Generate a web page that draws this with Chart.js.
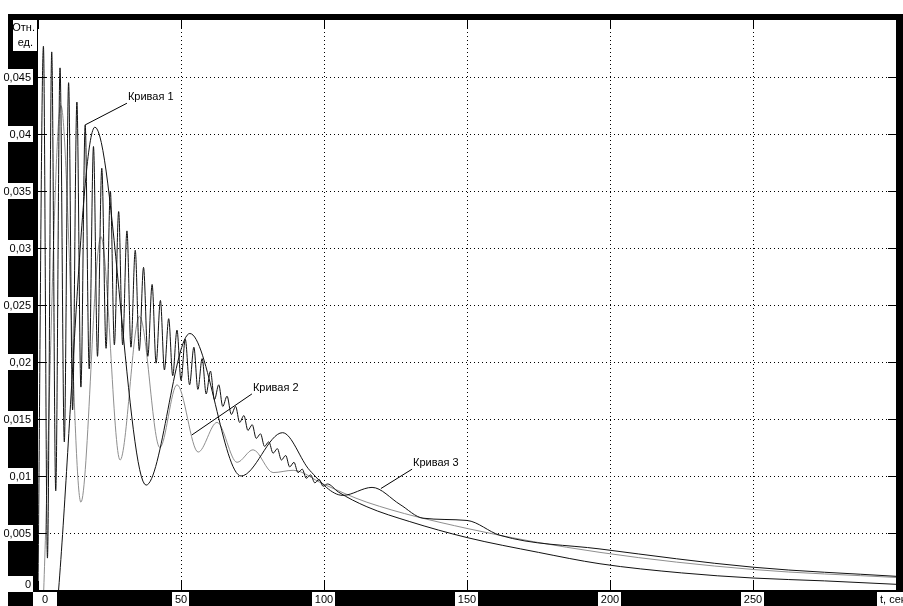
<!DOCTYPE html>
<html>
<head>
<meta charset="utf-8">
<script src="https://cdn.jsdelivr.net/npm/chart.js@4.4.1/dist/chart.umd.min.js"></script>
<style>
  html, body { margin: 0; padding: 0; background: #fff; overflow: hidden; }
  #wrap { width: 903px; height: 606px; }
</style>
</head>
<body>
<div id="wrap"><canvas id="c" width="903" height="606"></canvas></div>
<script>
// Кривая 1: fast oscillation (times of successive crests/troughs, then the smooth tail)
const curve1Time = [0, 1.9, 3.3, 4.8, 6.2, 7.7, 9.2, 10.7, 12.1, 13.6, 15.0, 16.5, 17.9, 19.4, 20.8, 22.3, 23.8,
  25.3, 26.7, 28.2, 29.6, 31.1, 32.5, 34.0, 35.4, 36.9, 38.4, 39.9, 41.3, 42.8, 44.2, 45.7, 47.1, 48.6, 50.0,
  51.5, 53.0, 54.5, 55.9, 57.4, 58.8, 60.3, 61.7, 63.2, 64.6, 66.1, 67.6, 69.1, 70.5, 72.0, 73.4, 74.9, 76.3,
  77.8, 79.2, 80.7, 82.2, 83.7, 85.1, 86.6, 88.0, 89.5, 90.9, 92.4, 93.8, 95.3, 96.8, 98.3, 99.7, 101.2,
  105, 115, 130, 150, 175, 196.5, 225, 250, 275, 300];
const curve1Value = [0, 0.0477, 0.0028, 0.0472, 0.0087, 0.0458, 0.0130, 0.0445, 0.0158, 0.0428, 0.0178, 0.0408,
  0.0194, 0.0389, 0.0205, 0.0370, 0.0212, 0.0350, 0.0215, 0.0332, 0.0215, 0.0315, 0.0213, 0.0298, 0.0210,
  0.0283, 0.0205, 0.0268, 0.0199, 0.0254, 0.0193, 0.0238, 0.0188, 0.0228, 0.0184, 0.0220, 0.0180, 0.0213,
  0.0176, 0.0203, 0.0172, 0.0192, 0.0167, 0.0180, 0.0161, 0.0170, 0.0154, 0.0161, 0.0147, 0.0153, 0.0140,
  0.0145, 0.0133, 0.0137, 0.0126, 0.0130, 0.0120, 0.0124, 0.0114, 0.0118, 0.0108, 0.0112, 0.0103, 0.0106,
  0.0098, 0.0101, 0.0094, 0.0097, 0.0091, 0.0093,
  0.0086, 0.0073, 0.0060, 0.0046, 0.0033, 0.0023, 0.0015, 0.00105, 0.0008, 0.0005];

// Кривая 2: medium-period oscillation (grey)
const curve2Time = [2.0, 8.0, 15.0, 22.0, 28.7, 35.5, 42.6, 48.6, 56.0, 62.6, 69.6, 75.2, 82.2, 89.2,
  99.7, 115, 150, 196.5, 250, 300];
const curve2Value = [0, 0.0425, 0.0077, 0.0310, 0.0114, 0.0240, 0.0125, 0.0180, 0.0121, 0.0147, 0.0112,
  0.0123, 0.0103, 0.0105, 0.0093, 0.0077, 0.0054, 0.0033, 0.0018, 0.0011];

// Кривая 3: slow oscillation (black)
const curve3Time = [7.2, 19.9, 37.8, 53.1, 71.0, 85.5, 95.0, 106.6, 116.8, 126.6, 134.6, 150, 161.5,
  196.5, 250, 300];
const curve3Value = [0, 0.0406, 0.0092, 0.0225, 0.0100, 0.0138, 0.0105, 0.0083, 0.0090, 0.0075, 0.0063,
  0.0061, 0.0048, 0.0036, 0.0020, 0.0012];

// axis ticks and their captions
const xTicks = [0, 50, 100, 150, 200, 250];
const xTickLabels = ['0', '50', '100', '150', '200', '250'];
const yTicks = [0, 0.005, 0.01, 0.015, 0.02, 0.025, 0.03, 0.035, 0.04, 0.045];
const yTickLabels = ['0', '0,005', '0,01', '0,015', '0,02', '0,025', '0,03', '0,035', '0,04', '0,045'];
const xAxisTitle = 't, сек';
const yAxisTitle = ['Отн.', 'ед.'];

// curve captions: text, point on the curve the leader touches, start of the leader
const captions = [
  { text: 'Кривая 1', at: [16.5, 0.0408], from: [31.1, 0.0427] },
  { text: 'Кривая 2', at: [53.8, 0.0136], from: [74.8, 0.0172] },
  { text: 'Кривая 3', at: [119.9, 0.0089], from: [130.8, 0.0106] }
];

const zip = (t, v) => t.map((x, i) => ({ x: x, y: v[i] }));
const FONT = '11px "Liberation Sans", Arial, sans-serif';

function whiteBox(ctx, x, y, w, h) {
  ctx.fillStyle = '#fff';
  ctx.fillRect(x, y, w, h);
}

const framePlugin = {
  id: 'frame',
  beforeDraw(chart) {
    const { ctx, chartArea: a, scales: { x, y } } = chart;
    ctx.save();
    ctx.fillStyle = '#fff';
    ctx.fillRect(0, 0, chart.width, chart.height);
    ctx.fillStyle = '#000';
    ctx.fillRect(8, 14, chart.width - 8, chart.height - 14);
    ctx.fillStyle = '#fff';
    ctx.fillRect(a.left, a.top, a.right - a.left, a.bottom - a.top);

    // dotted grid
    ctx.strokeStyle = '#000';
    ctx.lineWidth = 1;
    ctx.setLineDash([1, 3]);
    xTicks.forEach(v => {
      if (v === 0) return;
      const px = Math.round(x.getPixelForValue(v)) + 0.5;
      ctx.beginPath(); ctx.moveTo(px, a.top); ctx.lineTo(px, a.bottom); ctx.stroke();
    });
    yTicks.forEach(v => {
      if (v === 0) return;
      const py = Math.round(y.getPixelForValue(v)) + 0.5;
      ctx.beginPath(); ctx.moveTo(a.left, py); ctx.lineTo(a.right, py); ctx.stroke();
    });
    ctx.restore();
  },
  afterDatasetsDraw(chart) {
    const { ctx, chartArea: a, scales: { x, y } } = chart;
    ctx.save();
    ctx.strokeStyle = '#000';
    ctx.lineWidth = 1;
    ctx.setLineDash([]);
    // tick marks on all four sides
    yTicks.forEach(v => {
      const py = Math.round(y.getPixelForValue(v)) + 0.5;
      ctx.beginPath(); ctx.moveTo(a.left, py); ctx.lineTo(a.left + 8, py); ctx.stroke();
      ctx.beginPath(); ctx.moveTo(a.right, py); ctx.lineTo(a.right - 8, py); ctx.stroke();
    });
    xTicks.forEach(v => {
      const px = Math.round(x.getPixelForValue(v)) + 0.5;
      ctx.beginPath(); ctx.moveTo(px, a.bottom); ctx.lineTo(px, a.bottom - 9); ctx.stroke();
      ctx.beginPath(); ctx.moveTo(px, a.top); ctx.lineTo(px, a.top + 9); ctx.stroke();
    });

    ctx.font = FONT;
    ctx.textBaseline = 'middle';
    // y captions in white boxes on the black band
    yTicks.forEach((v, i) => {
      const py = Math.round(y.getPixelForValue(v));
      const tw = ctx.measureText(yTickLabels[i]).width;
      const w = Math.max(25, tw + 4);
      const cy = Math.min(py, a.bottom - 6);
      whiteBox(ctx, a.left - 5 - w, cy - 8, w, 16);
      ctx.fillStyle = '#000';
      ctx.textAlign = 'right';
      ctx.fillText(yTickLabels[i], a.left - 7, cy + 1);
    });
    // x captions
    xTicks.forEach((v, i) => {
      const px = x.getPixelForValue(v);
      const tw = ctx.measureText(xTickLabels[i]).width;
      const w = i === 0 ? 24 : tw + 5;
      const cx = i === 0 ? px + 7 : px;
      whiteBox(ctx, Math.round(cx - w / 2), a.bottom + 2, Math.round(w), 16);
      ctx.fillStyle = '#000';
      ctx.textAlign = 'center';
      ctx.fillText(xTickLabels[i], cx, a.bottom + 10);
    });
    // axis titles
    whiteBox(ctx, a.right - 19, a.bottom + 2, 40, 16);
    ctx.fillStyle = '#000';
    ctx.textAlign = 'left';
    ctx.fillText(xAxisTitle, a.right - 16, a.bottom + 10);
    whiteBox(ctx, 13, a.top, 24, 31);
    ctx.fillStyle = '#000';
    ctx.textAlign = 'right';
    ctx.fillText(yAxisTitle[0], 35, a.top + 8);
    ctx.fillText(yAxisTitle[1], 33, a.top + 23);

    // captions with leader lines
    ctx.textAlign = 'left';
    captions.forEach(c => {
      const x0 = x.getPixelForValue(c.from[0]), y0 = y.getPixelForValue(c.from[1]);
      const x1 = x.getPixelForValue(c.at[0]), y1 = y.getPixelForValue(c.at[1]);
      ctx.strokeStyle = '#000';
      ctx.beginPath(); ctx.moveTo(x0, y0); ctx.lineTo(x1, y1); ctx.stroke();
      ctx.fillStyle = '#000';
      ctx.fillText(c.text, x0 + 1, y0 - 6);
    });
    ctx.restore();
  }
};

new Chart(document.getElementById('c'), {
  type: 'line',
  data: {
    datasets: [
      { label: 'Кривая 2', data: zip(curve2Time, curve2Value), borderColor: '#8f8f8f', order: 3 },
      { label: 'Кривая 3', data: zip(curve3Time, curve3Value), borderColor: '#111', order: 2 },
      { label: 'Кривая 1', data: zip(curve1Time, curve1Value), borderColor: '#111', order: 1 }
    ]
  },
  options: {
    responsive: false,
    animation: false,
    devicePixelRatio: 1,
    layout: { padding: { left: 38, top: 20, right: 7, bottom: 16 } },
    parsing: false,
    elements: {
      point: { radius: 0 },
      line: { borderWidth: 1, cubicInterpolationMode: 'monotone', fill: false }
    },
    scales: {
      x: { type: 'linear', min: 0, max: 300, display: false },
      y: { type: 'linear', min: 0, max: 0.05, display: false }
    },
    plugins: { legend: { display: false }, tooltip: { enabled: false } }
  },
  plugins: [framePlugin]
});
</script>
</body>
</html>
